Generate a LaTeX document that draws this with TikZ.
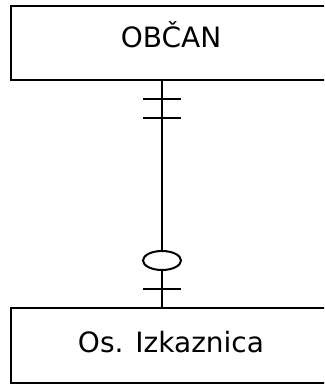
\documentclass[tikz,border=0pt]{standalone}
\usepackage{fontspec}
\setmainfont{DejaVu Sans}
\usetikzlibrary{positioning}
\tikzset{
  entity/.style={draw, rectangle, inner sep=0pt, minimum width=320pt,
    anchor=north west, font=\fontsize{28}{30}\selectfont},
  tick/.style={line width=2pt},
}
\begin{document}
\begin{tikzpicture}[x=1pt, y=-1pt, line width=2pt]
  \useasboundingbox (0,0) rectangle (324,385);
  \clip (0,0) rectangle (324,385);
  \node[entity, text height=42pt, text depth=32pt] (obcan) at (10,5) {OBČAN};
  \node[entity, text height=44pt, text depth=31pt] (izkaznica) at (10,307) {Os. Izkaznica};
  \coordinate (top) at (obcan.south -| 162,0);
  \coordinate (bot) at (izkaznica.north -| 162,0);
  \draw (top) -- (bot);
  % one and only one
  \draw[tick] (143,99) -- (181,99);
  \draw[tick] (143,118) -- (181,118);
  % zero or one
  \draw[tick, fill=white] (162,260.5) ellipse [x radius=19, y radius=9.5];
  \draw[tick] (143,289) -- (181,289);
\end{tikzpicture}
\end{document}
